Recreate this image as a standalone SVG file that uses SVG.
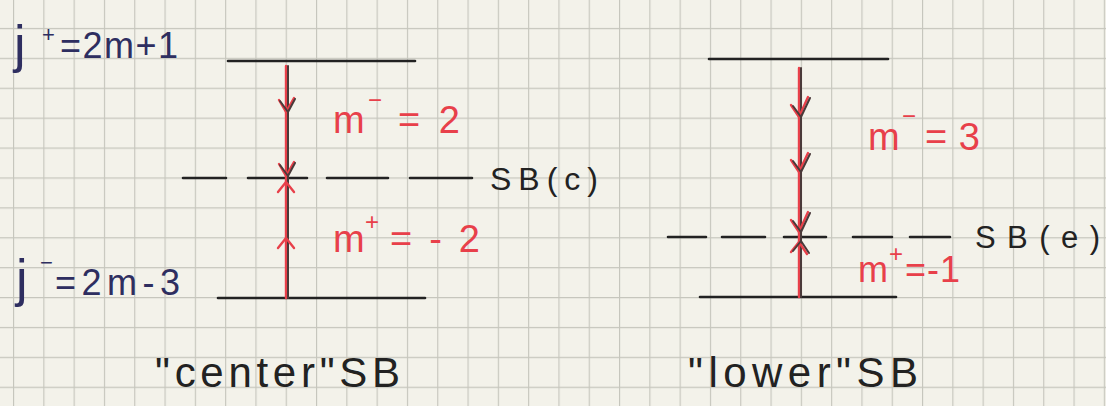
<svg xmlns="http://www.w3.org/2000/svg" width="1106" height="406" viewBox="0 0 1106 406">
<defs>
<pattern id="grid" x="13" y="-2" width="30.3" height="29.9" patternUnits="userSpaceOnUse">
<path d="M0.5 0 V29.9 M0 0.5 H30.3" stroke="#c6c6bd" stroke-width="1.3" fill="none"/>
</pattern>
</defs>
<style>
.ink{stroke:#222;stroke-width:2.6;fill:none;stroke-linecap:round}
.red{stroke:#e8404a;stroke-width:2.4;fill:none;stroke-linecap:round;stroke-linejoin:round}
.dk{stroke:#4a3a3a;stroke-width:2;fill:none;stroke-linecap:round;stroke-linejoin:round}
.t{font-family:"Liberation Sans","DejaVu Sans",sans-serif}
.rt{fill:#e8404a}
.bt{fill:#222}
.jt{fill:#2e2e60}
</style>
<rect width="1106" height="406" fill="#f3f2ea"/>
<rect width="1106" height="406" fill="url(#grid)"/>

<g id="left-levels">
<line class="ink" x1="228" y1="61" x2="415" y2="61"/>
<path class="ink" d="M183 178 H226 M248 178 H307 M327 178 H388 M410 178 H472"/>
<line class="ink" x1="218" y1="298" x2="425" y2="298"/>
<text class="t bt" x="490" y="190" font-size="32" textLength="108" lengthAdjust="spacing">SB(c)</text>
</g>

<g id="right-levels">
<line class="ink" x1="709" y1="59" x2="888" y2="59"/>
<path class="ink" d="M668 237 H706 M722 237 H765 M784 237 H826 M853 237 H892 M910 237 H950"/>
<line class="ink" x1="700" y1="297" x2="896" y2="297"/>
<text class="t bt" x="975" y="248" font-size="31" textLength="125" lengthAdjust="spacing">SB(e)</text>
</g>

<g id="connectors">
<line class="red" x1="286" y1="66" x2="286" y2="298"/>
<line class="dk" x1="288" y1="66" x2="288" y2="298"/>
<path class="red" d="M279 100 L286 112 L294 98 M279 164 L286 176 L294 162 M278 192 L286 182 L294 192 M278 248 L286 238 L294 248"/>
<path class="dk" d="M280 101 L288 112 L295 99 M280 165 L288 176 L295 163"/>
<line class="red" x1="799" y1="68" x2="799" y2="297"/>
<line class="dk" x1="801" y1="68" x2="801" y2="297"/>
<path class="red" d="M791 105 L799 117 L808 97 M791 160 L799 172 L808 153 M791 220 L799 232 L808 212 M791 252 L799 242 L807 254"/>
<path class="dk" d="M793 106 L801 117 L810 98 M793 161 L801 172 L810 154 M793 221 L801 232 L810 213 M793 251 L801 241 L809 253"/>
</g>

<g id="labels">
<text class="t jt" x="14" y="62" font-size="52">j</text>
<text class="t jt" x="42" y="42" font-size="22">+</text>
<text class="t jt" x="60" y="58" font-size="36" textLength="118" lengthAdjust="spacing">=2m+1</text>
<text class="t jt" x="16" y="296" font-size="52">j</text>
<text class="t jt" x="40" y="270" font-size="22">−</text>
<text class="t jt" x="55" y="295" font-size="36" textLength="125" lengthAdjust="spacing">=2m-3</text>
<text class="t rt" x="333" y="133" font-size="38">m</text>
<text class="t rt" x="368" y="108" font-size="24">−</text>
<text class="t rt" x="398" y="133" font-size="38" textLength="62" lengthAdjust="spacing">=2</text>
<text class="t rt" x="333" y="252" font-size="38">m</text>
<text class="t rt" x="365" y="230" font-size="24">+</text>
<text class="t rt" x="390" y="252" font-size="38" textLength="90" lengthAdjust="spacing">=-2</text>
<text class="t rt" x="868" y="150" font-size="38">m</text>
<text class="t rt" x="902" y="124" font-size="24">−</text>
<text class="t rt" x="925" y="150" font-size="38" textLength="55" lengthAdjust="spacing">=3</text>
<text class="t rt" x="858" y="282" font-size="36">m</text>
<text class="t rt" x="889" y="262" font-size="24">+</text>
<text class="t rt" x="905" y="282" font-size="36" textLength="55" lengthAdjust="spacing">=-1</text>
<text class="t bt" x="155" y="387" font-size="42" textLength="245" lengthAdjust="spacing">"center"SB</text>
<text class="t bt" x="688" y="387" font-size="42" textLength="230" lengthAdjust="spacing">"lower"SB</text>
</g>
</svg>
